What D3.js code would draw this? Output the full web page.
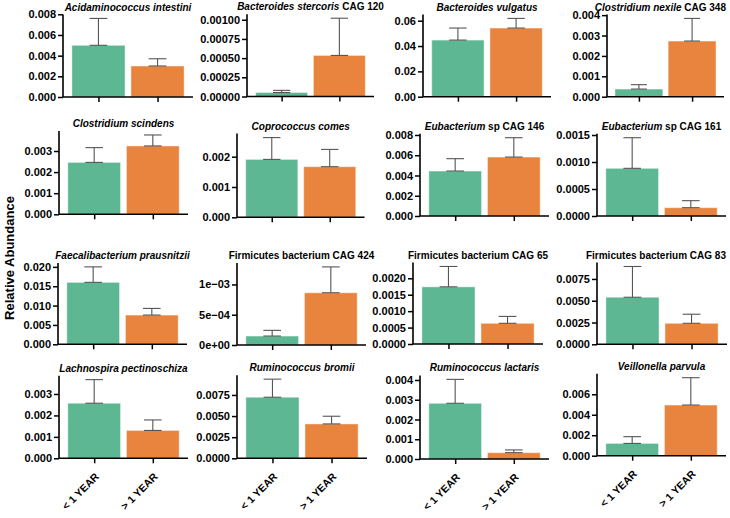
<!DOCTYPE html>
<html>
<head>
<meta charset="utf-8">
<script src="https://cdn.jsdelivr.net/npm/d3@7"></script>
<style>
  html, body { margin: 0; padding: 0; background: #fff; }
  svg { display: block; font-family: "Liberation Sans", Arial, Helvetica, sans-serif; }
</style>
</head>
<body>
<svg id="chart" width="730" height="518"></svg>
<script>
// ---------------- DATA ----------------
const groups = ["< 1 YEAR", "> 1 YEAR"];
const titleItalic = [
  "Acidaminococcus intestini", "Bacteroides stercoris", "Bacteroides vulgatus", "Clostridium nexile",
  "Clostridium scindens", "Coprococcus comes", "Eubacterium", "Eubacterium",
  "Faecalibacterium prausnitzii", "", "", "",
  "Lachnospira pectinoschiza", "Ruminococcus bromii", "Ruminococcus lactaris", "Veillonella parvula"
];
const titleRoman = [
  "", " CAG 120", "", " CAG 348",
  "", "", " sp CAG 146", " sp CAG 161",
  "", "Firmicutes bacterium CAG 424", "Firmicutes bacterium CAG 65", "Firmicutes bacterium CAG 83",
  "", "", "", ""
];
const meanLt1  = [0.0050, 0.000052, 0.0447, 0.000375, 0.00246, 0.00191, 0.00444, 0.000883,
                  0.0160, 0.000148, 0.00174, 0.0054, 0.00257, 0.00723, 0.00282, 0.0012];
const upperLt1 = [0.0076, 0.000080, 0.0542, 0.00059, 0.00316, 0.00263, 0.00566, 0.00145,
                  0.0200, 0.000242, 0.00236, 0.00893, 0.00367, 0.00937, 0.00403, 0.00186];
const meanGt1  = [0.0030, 0.000535, 0.0542, 0.00273, 0.00324, 0.00167, 0.00582, 0.000154,
                  0.00755, 0.000863, 0.00063, 0.00241, 0.0013, 0.00407, 0.00032, 0.00495];
const upperGt1 = [0.0037, 0.00102, 0.0618, 0.00384, 0.00376, 0.00224, 0.00773, 0.000284,
                  0.00927, 0.00129, 0.00084, 0.00345, 0.00179, 0.00498, 0.00046, 0.00762];
const tickValues = [
  [0, 0.002, 0.004, 0.006, 0.008],
  [0, 0.00025, 0.0005, 0.00075, 0.001],
  [0, 0.02, 0.04, 0.06],
  [0, 0.001, 0.002, 0.003, 0.004],
  [0, 0.001, 0.002, 0.003],
  [0, 0.001, 0.002],
  [0, 0.002, 0.004, 0.006, 0.008],
  [0, 0.0005, 0.001, 0.0015],
  [0, 0.005, 0.010, 0.015, 0.020],
  [0, 0.0005, 0.001],
  [0, 0.0005, 0.001, 0.0015, 0.002],
  [0, 0.0025, 0.005, 0.0075],
  [0, 0.001, 0.002, 0.003],
  [0, 0.0025, 0.005, 0.0075],
  [0, 0.001, 0.002, 0.003, 0.004],
  [0, 0.002, 0.004, 0.006]
];
const tickLabels = [
  ["0.000", "0.002", "0.004", "0.006", "0.008"],
  ["0.00000", "0.00025", "0.00050", "0.00075", "0.00100"],
  ["0.00", "0.02", "0.04", "0.06"],
  ["0.000", "0.001", "0.002", "0.003", "0.004"],
  ["0.000", "0.001", "0.002", "0.003"],
  ["0.000", "0.001", "0.002"],
  ["0.000", "0.002", "0.004", "0.006", "0.008"],
  ["0.0000", "0.0005", "0.0010", "0.0015"],
  ["0.000", "0.005", "0.010", "0.015", "0.020"],
  ["0e+00", "5e\u221204", "1e\u221203"],
  ["0.0000", "0.0005", "0.0010", "0.0015", "0.0020"],
  ["0.0000", "0.0025", "0.0050", "0.0075"],
  ["0.000", "0.001", "0.002", "0.003"],
  ["0.0000", "0.0025", "0.0050", "0.0075"],
  ["0.000", "0.001", "0.002", "0.003", "0.004"],
  ["0.000", "0.002", "0.004", "0.006"]
];
const yTitle = "Relative Abundance";

// ---------------- LAYOUT (panel boxes) ----------------
const layout = [
  {l: 63,  r: 193, t: 14.5, b: 97},
  {l: 247, r: 374, t: 14.3, b: 96.5},
  {l: 423, r: 551, t: 14.5, b: 96.7},
  {l: 607, r: 724, t: 14.5, b: 96.7},
  {l: 59,  r: 188, t: 131,  b: 214.3},
  {l: 237, r: 364.5, t: 133.6, b: 217.3},
  {l: 420, r: 549, t: 133.8, b: 216},
  {l: 597, r: 726, t: 133.8, b: 216},
  {l: 58,  r: 187, t: 263,  b: 344.3},
  {l: 237, r: 366, t: 263,  b: 345},
  {l: 413, r: 543, t: 262.6, b: 344},
  {l: 597, r: 727, t: 262.6, b: 344.3},
  {l: 59,  r: 188, t: 375.7, b: 458.3},
  {l: 237, r: 367, t: 375.2, b: 458.3},
  {l: 420, r: 549, t: 375.4, b: 459},
  {l: 597, r: 726, t: 373.8, b: 455.7}
];
const colors = ["#5cb792", "#e9843e"];
const fontFam = '"Liberation Sans", Arial, Helvetica, sans-serif';
const rightLimit = 726;

const svg = d3.select("#chart");

layout.forEach((box, i) => {
  const rows = groups.map((g, k) => ({
    group: g,
    mean: k === 0 ? meanLt1[i] : meanGt1[i],
    upper: k === 0 ? upperLt1[i] : upperGt1[i]
  }));
  const maxV = d3.max(rows, d => d.upper) * 1.05;
  const y = d3.scaleLinear().domain([0, maxV]).range([box.b, box.t]);
  const x = d3.scaleLinear().domain([0.4, 2.6]).range([box.l, box.r]);
  const unit = x(1) - x(0);
  const g = svg.append("g");

  // bars
  g.selectAll("rect.bar").data(rows).enter().append("rect")
    .attr("class", "bar")
    .attr("x", (d, k) => x(k + 1 - 0.45))
    .attr("width", unit * 0.9)
    .attr("y", d => y(d.mean))
    .attr("height", d => y(0) - y(d.mean))
    .attr("fill", (d, k) => colors[k])
    .attr("stroke", "#ffffff")
    .attr("stroke-opacity", 0.45)
    .attr("stroke-width", 1);

  // error bars
  const capW = 0.3 * unit;
  rows.forEach((d, k) => {
    const cx = x(k + 1);
    g.append("line").attr("x1", cx).attr("x2", cx).attr("y1", y(d.mean)).attr("y2", y(d.upper))
      .attr("stroke", "#555555").attr("stroke-width", 1.1);
    [d.mean, d.upper].forEach(v => {
      g.append("line").attr("x1", cx - capW / 2).attr("x2", cx + capW / 2).attr("y1", y(v)).attr("y2", y(v))
        .attr("stroke", "#555555").attr("stroke-width", 1.1);
    });
  });

  // y axis
  const yAxis = d3.axisLeft(y).tickValues(tickValues[i]).tickFormat((v, j) => tickLabels[i][j])
    .tickSize(5).tickSizeOuter(0).tickPadding(2);
  const ya = g.append("g").attr("transform", `translate(${box.l},0)`).call(yAxis);
  ya.select(".domain").remove();
  ya.selectAll(".tick line").attr("stroke", "#000").attr("stroke-width", 1.5);
  ya.selectAll(".tick text").attr("fill", "#000").attr("font-size", 11).attr("font-weight", "bold")
    .attr("font-family", fontFam);

  // x axis ticks
  const xAxis = d3.axisBottom(x).tickValues([1, 2]).tickFormat((v) => groups[v - 1])
    .tickSize(5).tickSizeOuter(0);
  const xa = g.append("g").attr("transform", `translate(0,${box.b})`).call(xAxis);
  xa.select(".domain").remove();
  xa.selectAll(".tick line").attr("stroke", "#000").attr("stroke-width", 1.5);
  if (i >= 12) {
    xa.selectAll(".tick text")
      .attr("fill", "#000").attr("font-size", 10.5).attr("font-weight", "bold").attr("font-family", fontFam)
      .attr("text-anchor", "end").attr("dy", null).attr("y", null)
      .attr("transform", "translate(5,19) rotate(-45)");
  } else {
    xa.selectAll(".tick text").remove();
  }

  // axis lines
  g.append("path")
    .attr("d", `M${box.l},${box.t}V${box.b}H${box.r}`)
    .attr("fill", "none").attr("stroke", "#000").attr("stroke-width", 1.6);

  // title
  const cx = (box.l + box.r) / 2;
  const t = g.append("text")
    .attr("x", cx).attr("y", box.t - 4)
    .attr("text-anchor", "middle").attr("font-size", 10).attr("font-weight", "bold")
    .attr("font-family", fontFam).attr("fill", "#000");
  if (titleItalic[i]) t.append("tspan").attr("font-style", "italic").text(titleItalic[i]);
  if (titleRoman[i]) t.append("tspan").text(titleRoman[i]);
  const w = t.node().getComputedTextLength();
  if (cx + w / 2 > rightLimit) t.attr("x", rightLimit - w / 2);
});

svg.append("text")
  .attr("transform", "translate(14,258) rotate(-90)")
  .attr("text-anchor", "middle").attr("font-size", 13).attr("font-weight", "bold")
  .attr("font-family", fontFam).attr("fill", "#000")
  .text(yTitle);
</script>
</body>
</html>
